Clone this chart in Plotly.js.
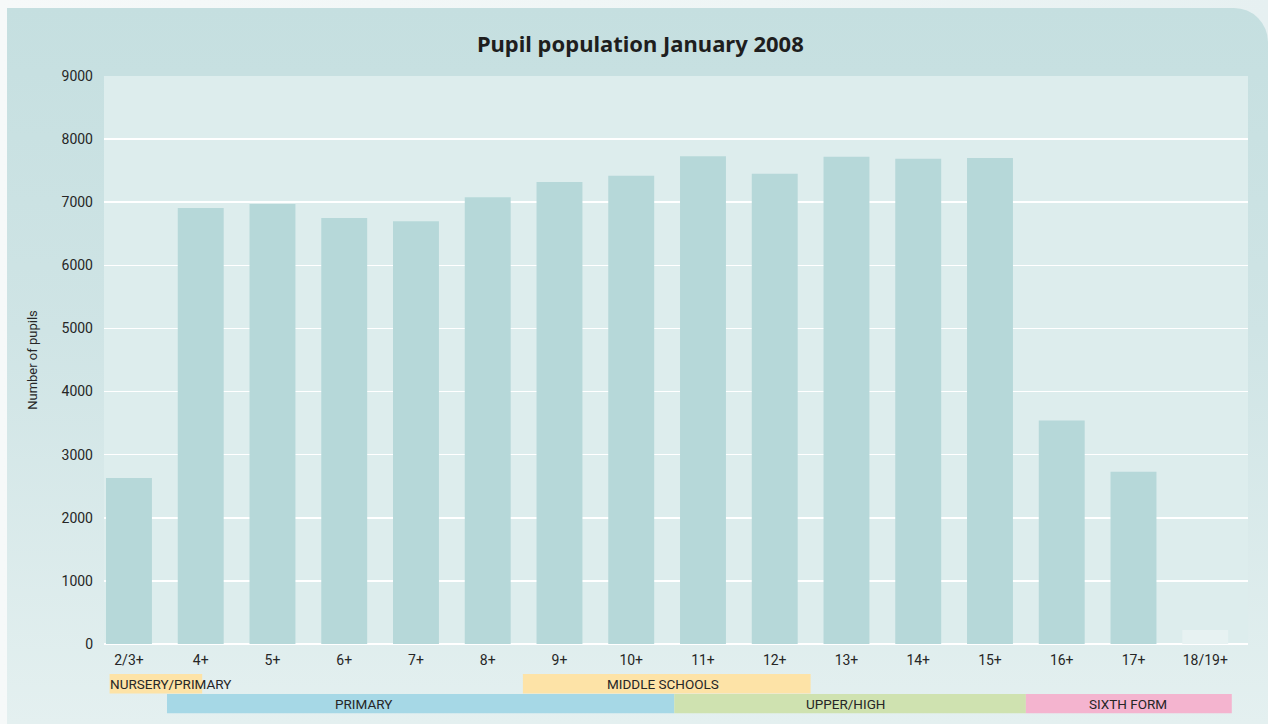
<!DOCTYPE html>
<html>
<head>
<meta charset="utf-8">
<script src="https://cdn.plot.ly/plotly-3.0.1.min.js"></script>
<style>
  html, body { margin: 0; padding: 0; }
  body { width: 1268px; height: 724px; overflow: hidden; position: relative;
         background: linear-gradient(to right, #f6f9f9 0%, #eef5f5 60%, #e6f0f1 100%); }
  #panel { position: absolute; left: 7px; top: 8px; width: 1261px; height: 716px;
           border-top-right-radius: 34px;
           background: linear-gradient(to bottom, #c5dfe0 0%, #cfe4e5 45%, #e4f0f0 100%); }
  #chart { position: absolute; left: 0; top: 0; width: 1268px; height: 724px; }
</style>
</head>
<body>
<div id="panel"></div>
<div id="chart"></div>
<script>
// pupils by age, January 2008
var ages = ['2/3+', '4+', '5+', '6+', '7+', '8+', '9+', '10+', '11+', '12+', '13+', '14+', '15+', '16+', '17+', '18/19+'];
var pupils = [2630, 6910, 6970, 6750, 6700, 7080, 7320, 7420, 7730, 7450, 7720, 7690, 7700, 3540, 2730, 220];

// school phase bands under the axis (positions in category units)
var bandLabels = ['NURSERY/PRIMARY', 'MIDDLE SCHOOLS', 'PRIMARY', 'UPPER/HIGH', 'SIXTH FORM'];
var bandStart = [-0.27, 5.49, 0.53, 7.6, 12.5];
var bandEnd = [1.02, 9.5, 7.6, 12.5, 15.37];
var bandTextAt = [-0.27, 7.44, 3.27, 9.98, 13.93];
var bandRow = [0, 0, 1, 1, 1];

var bandColors = ['#fde3a7', '#fde3a7', '#a6d8e6', '#cfe2b0', '#f4b4cf'];
var barColor = '#b6d8d9';
var lastBarColor = '#e7f2f2';
var textFont = 'Roboto, "Liberation Sans", sans-serif';

var colors = pupils.map(function (v, i) { return i === pupils.length - 1 ? lastBarColor : barColor; });

var trace = {
    x: ages.map(function (a, i) { return i; }),
    y: pupils,
    type: 'bar',
    marker: { color: colors, line: { width: 0 } },
    width: 0.64,
    hoverinfo: 'x+y'
};

// plot spans 568px vertically, rows sit below the axis
var rowTop = [-0.053, -0.088];
var rowBottom = [-0.087, -0.122];

var shapes = [];
var annotations = [];
for (var i = 0; i < bandLabels.length; i++) {
    var r = bandRow[i];
    shapes.push({
        type: 'rect', xref: 'x', yref: 'paper',
        x0: bandStart[i], x1: bandEnd[i], y0: rowBottom[r], y1: rowTop[r],
        fillcolor: bandColors[i], line: { width: 0 }, layer: 'below'
    });
    var leftAligned = i === 0;
    annotations.push({
        text: bandLabels[i], xref: 'x', yref: 'paper',
        x: bandTextAt[i],
        xanchor: leftAligned ? 'left' : 'center',
        y: (rowTop[r] + rowBottom[r]) / 2, yanchor: 'middle',
        showarrow: false, xshift: leftAligned ? -2 : 0,
        font: { family: textFont, size: 13.5, color: '#262626' }
    });
}

var layout = {
    width: 1268, height: 724,
    margin: { l: 104, r: 20, t: 76, b: 80 },
    paper_bgcolor: 'rgba(0,0,0,0)',
    plot_bgcolor: '#ddeded',
    title: {
        text: '<b>Pupil population January 2008</b>',
        font: { family: '"Noto Sans", sans-serif', size: 22, color: '#1e1e1e' },
        x: 0.505, xanchor: 'center', y: 0.939, yanchor: 'middle'
    },
    showlegend: false,
    bargap: 0.36,
    xaxis: {
        range: [-0.348, 15.596],
        tickvals: ages.map(function (a, i) { return i; }),
        ticktext: ages,
        showgrid: false, zeroline: false, showline: false,
        ticks: '', ticklabelstandoff: 6,
        tickfont: { family: textFont, size: 14, color: '#262626' },
        fixedrange: true
    },
    yaxis: {
        range: [0, 9000],
        tickvals: [0, 1000, 2000, 3000, 4000, 5000, 6000, 7000, 8000, 9000],
        showgrid: true, gridcolor: '#ffffff', gridwidth: 1.5,
        zeroline: true, zerolinecolor: '#ffffff', zerolinewidth: 1.5,
        showline: false, ticks: '', ticklabelstandoff: 10,
        tickfont: { family: textFont, size: 14, color: '#262626' },
        title: { text: 'Number of pupils', standoff: 20,
                 font: { family: textFont, size: 13, color: '#262626' } },
        fixedrange: true
    },
    shapes: shapes,
    annotations: annotations
};

Plotly.newPlot('chart', [trace], layout, { displayModeBar: false, staticPlot: true });
</script>
</body>
</html>
